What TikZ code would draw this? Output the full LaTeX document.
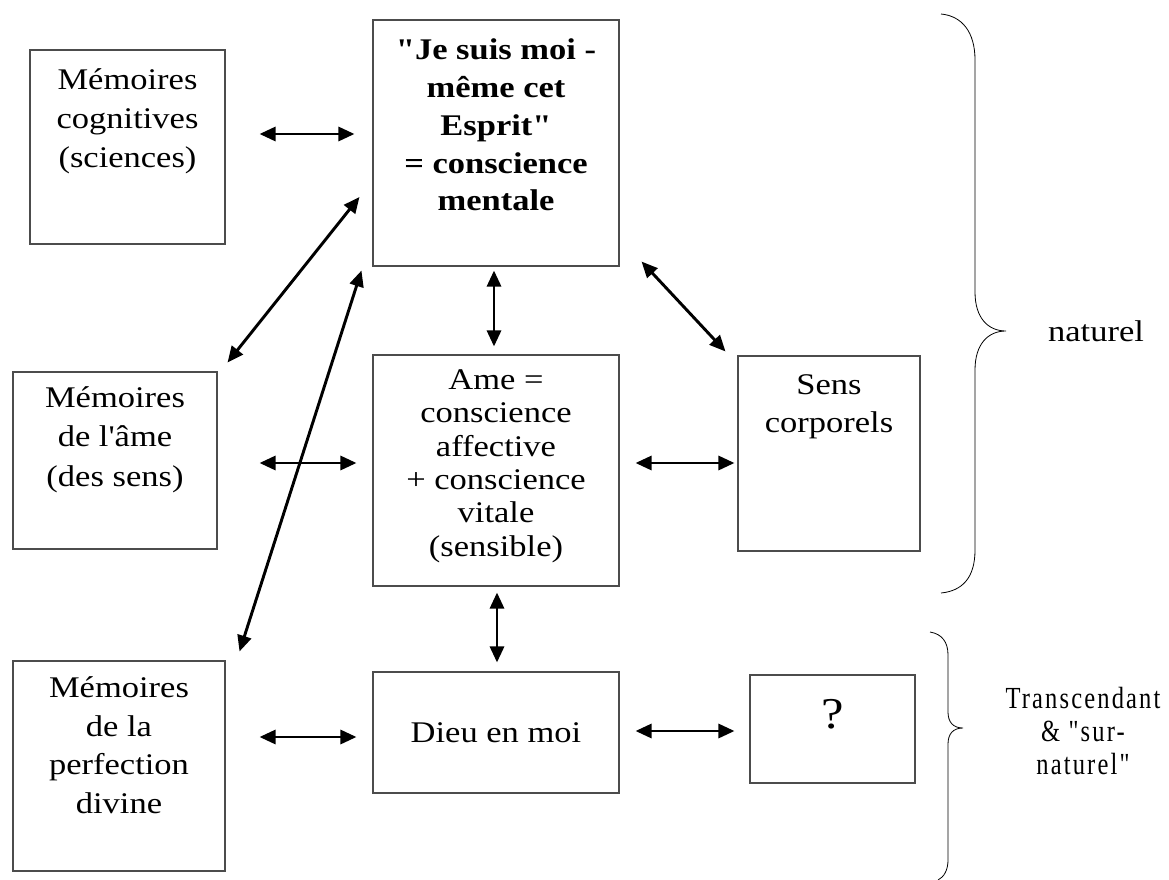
\documentclass[tikz,border=0pt]{standalone}
\usepackage{fontspec}
\setmainfont{Liberation Serif}[FakeStretch=1.15, Ligatures=TeXOff]
\newfontfamily\narrowfont{Liberation Serif}[FakeStretch=0.8, LetterSpace=7, Ligatures=TeXOff]
\usetikzlibrary{calc, arrows.meta}

\begin{document}
\begin{tikzpicture}[x=0.75pt, y=-0.75pt,
    membox/.style={rectangle, draw=black!70, line width=0.8pt, inner sep=0pt},
    memtext/.style={align=center, inner sep=0pt, anchor=north, font={\fontsize{22.5pt}{29.25pt}\selectfont}},
    link/.style={{Triangle[length=12pt, width=10.5pt]}-{Triangle[length=12pt, width=10.5pt]}, line width=2.2pt},
    brace/.style={draw=black, line width=0.6pt}]
    \useasboundingbox (0,0) rectangle (1169,880);
    % boxes, left column
    \node[membox, minimum width=146.25pt, minimum height=145.5pt,
    label={[memtext, yshift=-14.25pt]north:{Mémoires\\cognitives\\(sciences)}}] (cog) at (127.5,147) {};
    \node[membox, minimum width=153pt, minimum height=132.75pt,
    label={[memtext, font={\fontsize{22.5pt}{29.5pt}\selectfont}, yshift=-11.25pt]north:{Mémoires\\de l'âme\\(des sens)}}] (soulmem) at (115,460.5) {};
    \node[membox, minimum width=159pt, minimum height=157.5pt,
    label={[memtext, font={\fontsize{22.5pt}{29pt}\selectfont}, yshift=-12pt]north:{Mémoires\\de la\\perfection\\divine}}] (perf) at (119,766) {};
    % boxes, middle column
    \node[membox, minimum width=184.5pt, minimum height=184.5pt,
    label={[memtext, font={\fontsize{22.5pt}{28.3pt}\selectfont\bfseries}, yshift=-14.5pt]north:{"Je suis moi -\\même cet\\Esprit"\\= conscience\\mentale}}] (mind) at (496,143) {};
    \node[membox, minimum width=184.5pt, minimum height=173.25pt,
    label={[memtext, font={\fontsize{22.5pt}{25pt}\selectfont}, yshift=-11.25pt]north:{Ame =\\conscience\\affective\\+ conscience\\vitale\\(sensible)}}] (ame) at (496,470.5) {};
    \node[membox, minimum width=184.5pt, minimum height=90.75pt,
    font={\fontsize{22.5pt}{29pt}\selectfont}] (dieu) at (496,732.5) {Dieu en moi};
    % boxes, right column
    \node[membox, minimum width=136.5pt, minimum height=146.25pt,
    label={[memtext, font={\fontsize{22.5pt}{28.5pt}\selectfont}, yshift=-14pt]north:{Sens\\corporels}}] (sens) at (829,453.5) {};
    \node[membox, minimum width=123.75pt, minimum height=81pt,
    label={[memtext, font={\fontsize{33pt}{36pt}\selectfont}, yshift=-18.75pt]north:{?}}] (quest) at (832.5,729) {};

    % double arrows
    \draw[link] ($(cog.east)+(34,-13)$) -- ($(mind.west)+(-18,-9)$);
    \draw[link] ($(mind.west)+(-13,54)$) -- ($(soulmem.north east)+(10,-9)$);
    \draw[link] ($(mind.south west)+(-11,4)$) -- ($(perf.north east)+(14,-9)$);
    \draw[link] ($(mind.south)+(-2,4)$) -- ($(ame.north)+(-2,-8)$);
    \draw[link] ($(mind.south east)+(22,-5)$) -- ($(sens.north west)+(-12,-4)$);
    \draw[link] ($(soulmem.east)+(42,2.5)$) -- ($(ame.west)+(-16,-7.5)$);
    \draw[link] ($(ame.east)+(16,-7.5)$) -- ($(sens.west)+(-3,9.5)$);
    \draw[link] ($(ame.south)+(1,6)$) -- ($(dieu.north)+(1,-9)$);
    \draw[link] ($(perf.east)+(34,-29)$) -- ($(dieu.west)+(-16,4.5)$);
    \draw[link] ($(dieu.east)+(16,-1.5)$) -- ($(quest.west)+(-15,2)$);

    % braces and their words
    \draw[brace] (941,14) .. controls (962,16) and (975,32) .. (975,60) -- (975,292)
    .. controls (975,318) and (988,331) .. (1006,331) .. controls (988,331) and (975,344) .. (975,370)
    -- (975,550) .. controls (975,578) and (962,591) .. (941,593);
    \draw[brace] (930,632) .. controls (942,634) and (948,642) .. (948,655) -- (948,712)
    .. controls (948,722) and (953,728) .. (963,728) .. controls (953,728) and (948,734) .. (948,744)
    -- (948,860) .. controls (948,870) and (944,877) .. (938,880);
    \node[font={\fontsize{22.5pt}{29pt}\selectfont}] (nat) at (1096,331) {naturel};
    \node[align=center, font={\narrowfont\fontsize{23pt}{24.5pt}\selectfont}] (trans) at (1083,731) {Transcendant\\\& "sur-\\naturel"};
\end{tikzpicture}
\end{document}
